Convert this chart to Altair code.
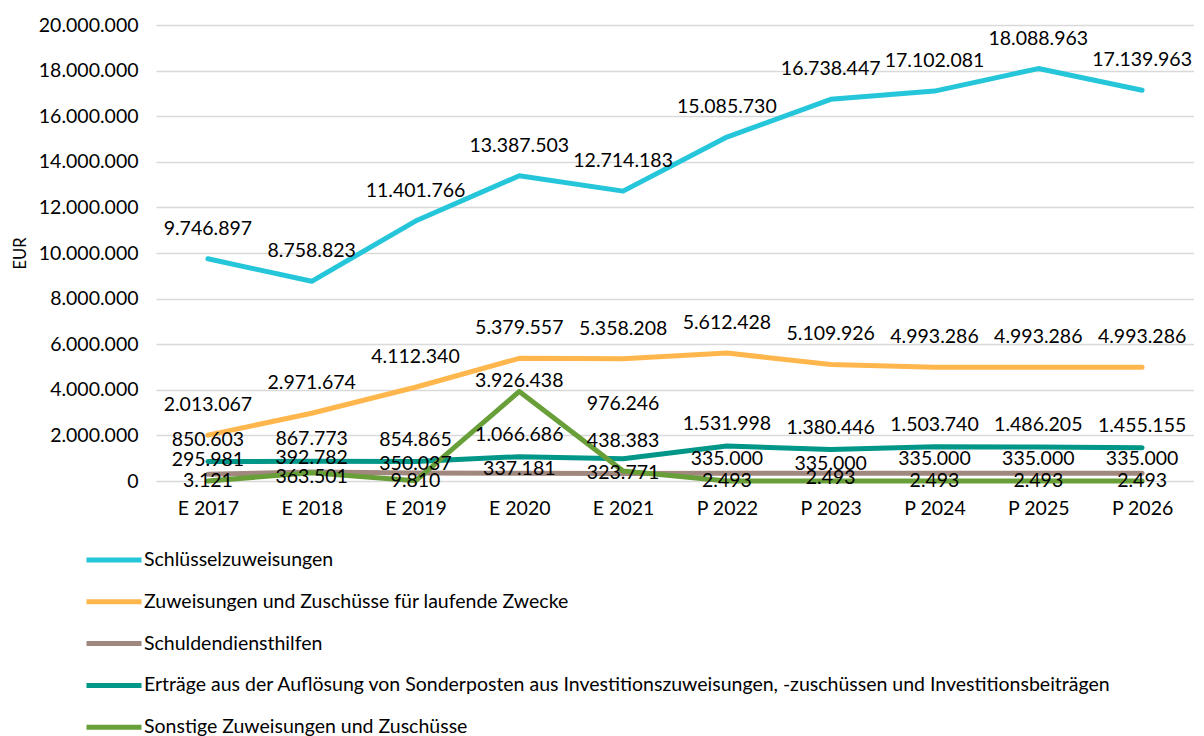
import altair as alt
import pandas as pd

years = ["E 2017", "E 2018", "E 2019", "E 2020", "E 2021",
         "P 2022", "P 2023", "P 2024", "P 2025", "P 2026"]

series_names = [
    "Schlüsselzuweisungen",
    "Zuweisungen und Zuschüsse für laufende Zwecke",
    "Schuldendiensthilfen",
    "Erträge aus der Auflösung von Sonderposten aus Investitionszuweisungen, -zuschüssen und Investitionsbeiträgen",
    "Sonstige Zuweisungen und Zuschüsse",
]

schluesselzuweisungen = [9746897, 8758823, 11401766, 13387503, 12714183,
                         15085730, 16738447, 17102081, 18088963, 17139963]
laufende_zwecke = [2013067, 2971674, 4112340, 5379557, 5358208,
                   5612428, 5109926, 4993286, 4993286, 4993286]
schuldendiensthilfen = [295981, 392782, 350037, 337181, 323771,
                        335000, 335000, 335000, 335000, 335000]
sonderposten = [850603, 867773, 854865, 1066686, 976246,
                1531998, 1380446, 1503740, 1486205, 1455155]
sonstige = [3121, 363501, 9810, 3926438, 438383,
            2493, 2493, 2493, 2493, 2493]

y_ticks = list(range(0, 20000001, 2000000))

colors = ["#26C6DA", "#FFB74D", "#A1887F", "#009688", "#689F38"]

# label offsets (pixels above the point), per series, with a few nudges
default_offset = {
    series_names[0]: 30,
    series_names[1]: 30,
    series_names[2]: 14,
    series_names[3]: 22,
    series_names[4]: 0,
}
nudges = {
    (series_names[3], "E 2021"): 55,
    (series_names[4], "E 2020"): 10,
    (series_names[4], "E 2021"): 30,
    (series_names[4], "E 2018"): -4,
    (series_names[4], "P 2023"): 3,
    (series_names[2], "E 2019"): 9,
    (series_names[2], "E 2020"): 4,
    (series_names[2], "E 2021"): 1,
    (series_names[2], "P 2023"): 9,
}

rows = []
for name, vals in zip(series_names, [schluesselzuweisungen, laufende_zwecke,
                                     schuldendiensthilfen, sonderposten, sonstige]):
    for yr, v in zip(years, vals):
        rows.append({
            "year": yr,
            "series": name,
            "value": v,
            "label": f"{v:,}".replace(",", "."),
            "off": nudges.get((name, yr), default_offset[name]),
        })
df = pd.DataFrame(rows)

FONT = "Lato"
TXT = "#000000"
FS = 19.5

x_enc = alt.X(
    "year:N", sort=years, title=None,
    axis=alt.Axis(labelAngle=0, domain=False, ticks=False, labelPadding=18,
                  labelFont=FONT, labelFontSize=FS, labelColor=TXT, grid=False),
)
y_enc = alt.Y(
    "value:Q", title="EUR",
    scale=alt.Scale(domain=[0, 20000000], nice=False, zero=True),
    axis=alt.Axis(values=y_ticks,
                  labelExpr="replace(format(datum.value, ','), regexp(',', 'g'), '.')",
                  domain=False, ticks=False, grid=True, gridColor="#D9D9D9",
                  gridWidth=1.3, labelPadding=18, labelFont=FONT, labelFontSize=FS,
                  labelColor=TXT, titleFont=FONT, titleFontSize=16.5,
                  titleFontWeight="normal", titleColor=TXT, titlePadding=10),
)

base = alt.Chart(df)

lines = base.mark_line(strokeWidth=5, strokeCap="round", strokeJoin="round").encode(
    x=x_enc,
    y=y_enc,
    color=alt.Color(
        "series:N", sort=series_names,
        scale=alt.Scale(domain=series_names, range=colors),
        legend=alt.Legend(
            title=None, orient="none", legendX=-72, legendY=505,
            direction="vertical", symbolType="stroke", symbolSize=3025,
            symbolStrokeWidth=5, labelFont=FONT, labelFontSize=FS,
            labelColor=TXT, labelOffset=0, rowPadding=1.8, padding=0,
            labelLimit=1200,
        ),
    ),
)

layers = [lines]
for off in sorted(df["off"].unique()):
    layers.append(
        base.transform_filter(alt.datum.off == int(off))
        .mark_text(baseline="middle", align="center", dy=-int(off),
                   font=FONT, fontSize=FS, color=TXT)
        .encode(x=alt.X("year:N", sort=years), y=alt.Y("value:Q"),
                text="label:N")
    )

chart = alt.layer(*layers).properties(
    width=1038, height=456,
    padding={"left": 148, "top": 17, "right": 0, "bottom": 255},
    autosize="none",
).configure_view(stroke=None).configure_scale(pointPadding=0.5)

chart.save("out.html", embed_options={"renderer": "svg", "actions": False})
